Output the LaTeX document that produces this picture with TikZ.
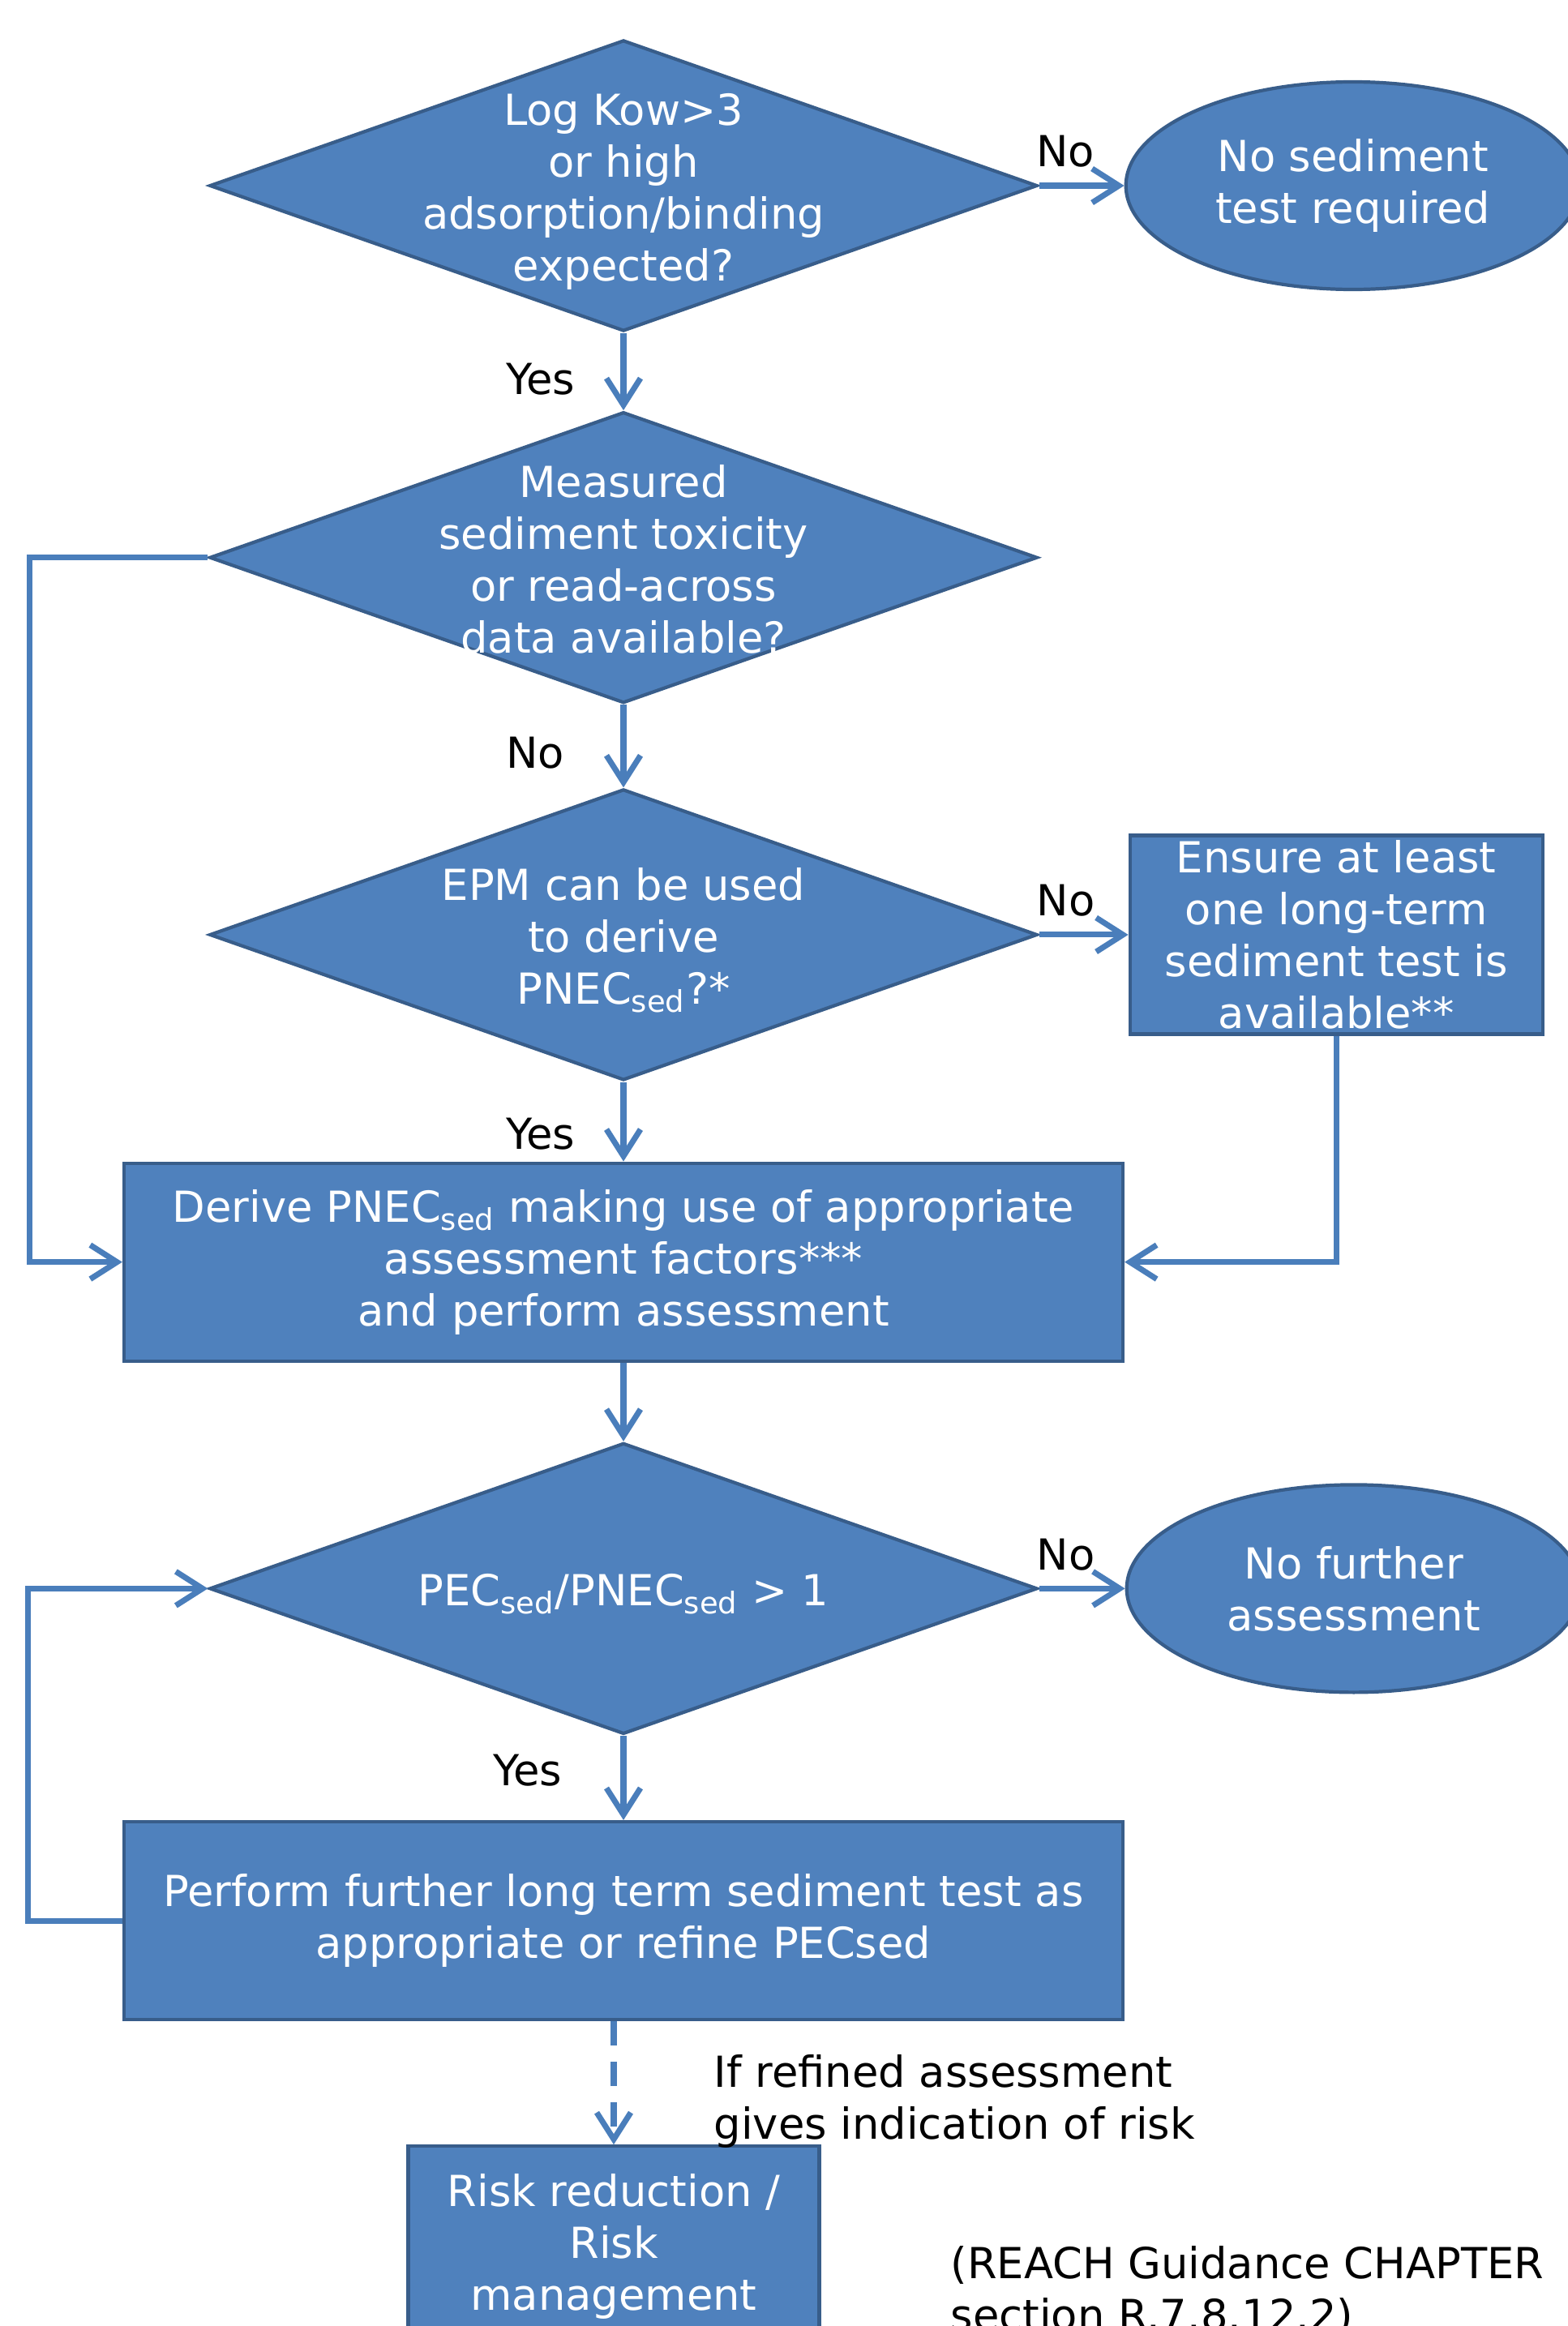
\documentclass[tikz,border=0pt]{standalone}
\usepackage{fontspec}
\setmainfont{DejaVu Sans}
\usepackage{tikz}
\usetikzlibrary{shapes.geometric,arrows.meta,positioning}
\definecolor{BoxBlue}{HTML}{4F81BD}
\definecolor{EdgeBlue}{HTML}{385D8A}
\definecolor{LineBlue}{HTML}{4A7EBB}

\begin{document}
\begin{tikzpicture}[
    every node/.style={font=\fontsize{15}{18.2}\selectfont},
    decision/.style={diamond, draw=EdgeBlue, fill=BoxBlue, line width=1.2pt, minimum width=10.21cm, minimum height=3.59cm, inner sep=0pt},
    dtext/.style={align=center, text=white, inner sep=0pt, yshift=-0.07cm},
    process/.style={rectangle, draw=EdgeBlue, fill=BoxBlue, line width=1.2pt, minimum width=12.32cm, minimum height=2.44cm, align=center, text=white},
    terminal/.style={ellipse, draw=EdgeBlue, fill=BoxBlue, line width=1.2pt, minimum width=5.6cm, minimum height=2.56cm, align=center, text=white},
    note/.style={align=left, inner sep=0pt, text=black},
    yn/.style={text=black},
    arrow/.style={-{Straight Barb[length=3.3mm, width=4.2mm]}, line width=2pt, color=LineBlue},
    dasharrow/.style={arrow, dash pattern=on 3mm off 2mm}
  ]
    \useasboundingbox (0,0) rectangle (19.33,-28.69);

    % main column
    \node[decision] (kow) at (7.69,-2.29) {};
    \node[dtext] (kowtxt) at (kow) {Log Kow>3\\or high\\adsorption/binding\\expected?};
    \node[decision, below=0.955cm of kow] (tox) {};
    \node[dtext, yshift=0.05cm] (toxtxt) at (tox) {Measured\\sediment toxicity\\or read-across\\data available?};
    \node[decision, below=1.02cm of tox] (epm) {};
    \node[dtext] (epmtxt) at (epm) {EPM can be used\\to derive\\PNEC\textsubscript{sed}?*};
    \node[process, below=0.98cm of epm] (derive) {Derive PNEC\textsubscript{sed} making use of appropriate\\assessment factors***\\and perform assessment};
    \node[decision, below=0.97cm of derive] (ratio) {};
    \node[dtext] (ratiotxt) at (ratio) {PEC\textsubscript{sed}/PNEC\textsubscript{sed} > 1};
    \node[process, below=1.04cm of ratio] (perform) {Perform further long term sediment test as\\appropriate or refine PECsed};
    \node[process, below=1.52cm of perform, xshift=-0.12cm, minimum width=5.07cm, minimum height=2.48cm] (risk) {Risk reduction /\\Risk\\management};

    % side nodes
    \node[terminal, right=1.05cm of kow] (nosed) {No sediment\\test required};
    \node[process, right=1.10cm of epm, minimum width=5.09cm, minimum height=2.45cm, inner ysep=0pt] (ensure) {Ensure at least\\one long-term\\sediment test is\\available**};
    \node[terminal, right=1.06cm of ratio] (nofurther) {No further\\assessment};

    % notes
    \node[note, anchor=base west] (refnote) at (8.80,-26.38) {If refined assessment\\gives indication of risk};
    \node[note, anchor=base west] (source) at (11.72,-28.74) {(REACH Guidance CHAPTER\\section R.7.8.12.2)};

    \draw[arrow] (kow) -- node[yn, pos=0.31, above=2pt] (no1) {No} (nosed);
    \draw[arrow] (kow) -- node[yn, pos=0.6, anchor=west, xshift=-1.60cm] (yes1) {Yes} (tox);
    \draw[arrow] (tox) -- node[yn, pos=0.58, anchor=west, xshift=-1.60cm] (no2) {No} (epm);
    \draw[arrow] (tox.west) -- ++(-2.20,0) |- (derive.west);
    \draw[arrow] (epm) -- node[yn, pos=0.30, above=2pt] (no3) {No} (ensure);
    \draw[arrow] (epm) -- node[yn, pos=0.65, anchor=west, xshift=-1.60cm] (yes2) {Yes} (derive);
    \draw[arrow] (ensure.south) |- (derive.east);
    \draw[arrow] (derive) -- (ratio);
    \draw[arrow] (ratio) -- node[yn, pos=0.31, above=2pt] (no4) {No} (nofurther);
    \draw[arrow] (ratio) -- node[yn, pos=0.41, anchor=west, xshift=-1.76cm] (yes3) {Yes} (perform);
    \draw[arrow] (perform.west) -- ++(-1.16,0) |- (ratio.west);
    \draw[dasharrow] (perform.south -| risk.north) -- (risk);
\end{tikzpicture}
\end{document}
